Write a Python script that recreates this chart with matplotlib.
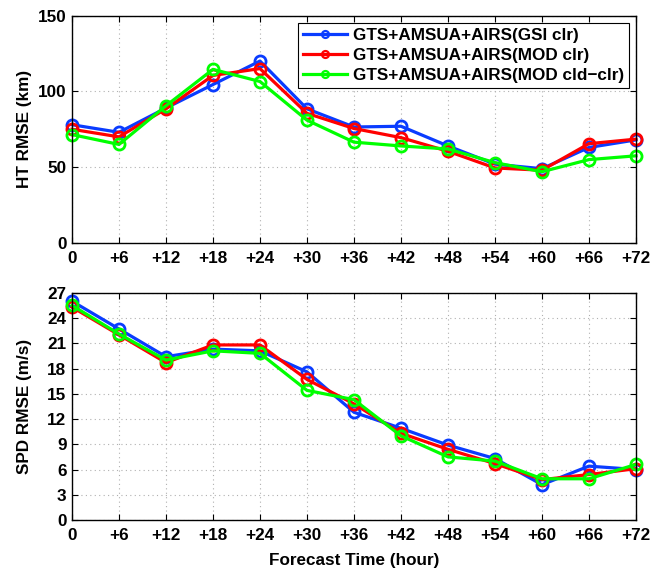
import matplotlib
matplotlib.use("Agg")
import matplotlib.pyplot as plt
import numpy as np

plt.rcParams['font.family'] = ['Liberation Sans', 'DejaVu Sans']
plt.rcParams['font.weight'] = 'bold'

# forecast lead times (hours)
hours = [0, 6, 12, 18, 24, 30, 36, 42, 48, 54, 60, 66, 72]
tick_labels = ['0', '+6', '+12', '+18', '+24', '+30', '+36', '+42',
               '+48', '+54', '+60', '+66', '+72']

names = ['GTS+AMSUA+AIRS(GSI clr)',
         'GTS+AMSUA+AIRS(MOD clr)',
         'GTS+AMSUA+AIRS(MOD cld\u2212clr)']

# track error (km)
ht_gsi = [78, 73, 89, 104.5, 120, 88.5, 76.5, 77, 64, 52, 49, 63, 68]
ht_mod = [75, 70, 88.5, 110.5, 115, 85.5, 75.5, 69.5, 60.5, 49.5, 48, 65.5, 68.5]
ht_cld = [71.5, 65, 90.5, 114.5, 106.5, 81, 66.5, 64, 62, 53, 47, 55, 57.5]

# wind speed error (m/s)
spd_gsi = [26.0, 22.7, 19.4, 20.3, 20.1, 17.6, 12.8, 10.9, 8.9, 7.3, 4.2, 6.4, 6.0]
spd_mod = [25.3, 22.0, 18.7, 20.8, 20.8, 16.7, 13.8, 10.3, 8.4, 6.7, 4.8, 5.4, 6.1]
spd_cld = [25.5, 22.1, 19.0, 20.1, 19.8, 15.4, 14.3, 10.0, 7.5, 7.0, 4.9, 4.9, 6.6]

colors = ['#0a3cff', '#ff0000', '#00ff00']
fs = 12.3

fig = plt.figure(figsize=(6.52, 5.71), dpi=100)
ax1 = fig.add_axes([0.1104, 0.5744, 0.865, 0.3984])
ax2 = fig.add_axes([0.1104, 0.0893, 0.865, 0.398])


def draw(ax, series):
    lines = []
    for ys, c, n in zip(series, colors, names):
        ln, = ax.plot(hours, ys, color=c, lw=2.3, marker='o', ms=8,
                      mfc='none', mec=c, mew=2, label=n, clip_on=False)
        lines.append(ln)
    ax.set_xlim(0, 72)
    ax.set_xticks(hours)
    ax.set_xticklabels(tick_labels)
    ax.grid(True, color='#b0b0b0', linestyle=(0, (1, 3)), lw=0.8)
    ax.tick_params(direction='in', labelsize=fs, length=4, width=0.8,
                   top=True, right=True, pad=6)
    ax.tick_params(axis='y', pad=4)
    for sp in ax.spines.values():
        sp.set_linewidth(1.0)
    return lines


lines = draw(ax1, [ht_gsi, ht_mod, ht_cld])
ax1.set_ylim(0, 150)
ax1.set_yticks([0, 50, 100, 150])
ax1.set_ylabel('HT RMSE (km)', fontsize=fs, fontweight='bold')
ax1.yaxis.set_label_coords(-0.071, 0.5)

draw(ax2, [spd_gsi, spd_mod, spd_cld])
ax2.set_ylim(0, 27)
ax2.set_yticks(np.arange(0, 28, 3))
ax2.set_ylabel('SPD RMSE (m/s)', fontsize=fs, fontweight='bold')
ax2.yaxis.set_label_coords(-0.071, 0.5)
ax2.set_xlabel('Forecast Time (hour)', fontsize=fs, fontweight='bold',
               labelpad=7)

leg = ax1.legend(handles=lines, loc='upper right', fontsize=fs,
                 handlelength=2.6, handletextpad=0.3,
                 borderpad=0.3, labelspacing=0.3, fancybox=False,
                 framealpha=1, edgecolor='black', borderaxespad=0.42)
leg.get_frame().set_linewidth(0.8)
for h in leg.legend_handles:
    h.set_markersize(5)
    h.set_markeredgewidth(1.6)

fig.savefig('out.png', dpi=100)
